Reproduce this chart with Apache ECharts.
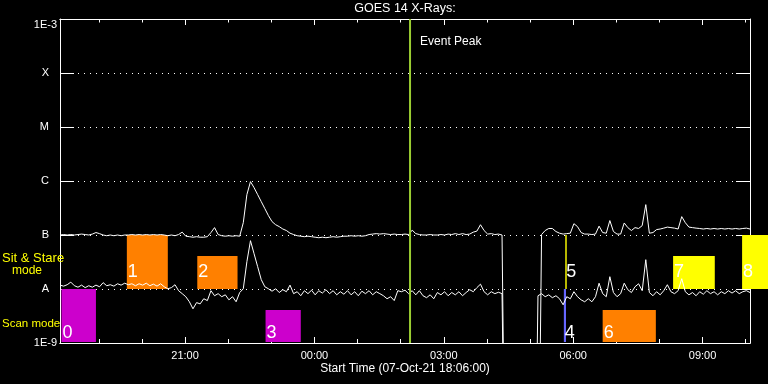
<!DOCTYPE html>
<html><head><meta charset="utf-8">
<script src="https://cdn.jsdelivr.net/npm/echarts@6/dist/echarts.min.js"></script>
<style>html,body{margin:0;padding:0;background:#000}#c{width:768px;height:384px}</style>
</head><body><div id="c"></div>
<script>
// ---------- data ----------
const chartTitle = 'GOES 14 X-Rays:';
const startTimeLabel = 'Start Time (07-Oct-21 18:06:00)';
const rangeStart = '18:06';
const rangeEnd = '10:06';
const sampleMinutes = 5;
const majorTickTimes = ['21:00', '00:00', '03:00', '06:00', '09:00'];
const minorTickTimes = ['19:00', '20:00', '22:00', '23:00', '01:00', '02:00', '04:00', '05:00', '07:00', '08:00', '10:00'];
const fluxLevels = [1e-9, 1e-8, 1e-7, 1e-6, 1e-5, 1e-4, 1e-3];
const fluxLevelLabels = ['1E-9', 'A', 'B', 'C', 'M', 'X', '1E-3'];
const fluxUnit = 1e-8; // values below are in units of 1e-8 W/m^2, sampled every 5 min from 18:06

const upperFlux = [
  10.0,10.2,10.0,10.2,10.0,10.2,10.4,10.2,10.0,10.4,
  11.1,10.6,10.0,9.7,10.0,9.7,10.0,9.7,10.0,10.0,
  10.2,10.0,10.2,10.0,10.2,10.0,10.2,10.0,10.2,10.0,
  9.7,10.0,9.7,10.2,11.3,9.5,9.3,9.1,9.3,9.1,
  9.1,9.3,11.1,13.7,10.2,9.7,9.5,9.7,9.5,9.7,
  9.5,16.9,55.9,97.3,75.3,55.9,41.5,30.8,22.8,17.7,
  15.5,14.3,12.9,12.1,10.8,10.2,9.7,9.5,9.3,9.5,
  9.3,9.1,8.9,9.1,8.9,9.1,9.3,9.1,9.3,9.5,
  9.5,9.7,9.5,9.7,9.5,9.7,10.2,10.4,10.6,10.4,
  10.6,10.4,10.2,10.4,10.2,10.2,10.4,10.2,12.3,10.6,
  10.2,10.0,10.0,10.2,10.0,10.0,10.2,10.0,10.4,10.2,
  10.6,10.2,10.6,10.2,10.4,11.3,11.8,15.5,12.1,10.4,
  10.6,10.2,10.4,10.0,
  1e-5,1e-5,1e-5,1e-5,1e-5,1e-5,1e-5,1e-5,1e-5,1e-5,
  10.2,12.1,13.2,13.2,11.6,10.8,
  10.4,10.6,10.8,16.2,14.3,11.1,10.4,10.4,10.2,10.4,
  14.6,11.1,10.8,18.5,11.6,10.4,10.4,16.7,13.7,12.1,
  13.7,13.2,14.9,36.5,10.8,11.1,12.6,12.9,13.4,14.0,
  13.7,13.4,12.9,21.9,16.9,14.0,13.7,13.4,13.2,12.9,
  13.2,12.9,13.2,12.9,13.2,12.9,13.2,12.9,13.2,12.9,
  13.2,13.4,12.9
];

const lowerFlux = [
  1.18,1.13,1.20,1.34,1.15,1.08,1.18,1.06,1.15,1.08,
  1.18,1.10,1.31,1.15,1.20,1.13,1.25,1.18,1.28,1.20,
  1.25,1.15,1.25,1.18,1.28,1.15,1.23,1.13,1.25,1.10,
  1.01,1.06,1.20,0.93,0.82,0.72,0.58,0.43,0.56,0.53,
  0.66,0.61,0.93,0.75,0.82,0.72,0.78,0.63,0.72,0.58,
  0.86,1.01,3.2,7.85,4.5,2.59,1.49,1.10,1.01,0.91,
  1.01,0.86,0.97,0.89,1.18,0.82,0.89,0.75,0.93,0.82,
  0.95,0.78,0.93,0.84,0.97,0.82,0.93,0.78,0.89,0.80,
  0.93,0.78,0.89,0.75,0.91,0.82,0.93,0.78,0.89,0.82,
  0.75,0.66,0.72,0.61,0.93,0.89,0.95,0.82,0.93,0.78,
  0.93,0.75,0.69,0.78,0.66,0.86,0.78,0.89,0.75,0.86,
  0.78,0.89,0.75,0.86,0.97,0.89,1.06,1.23,0.89,0.78,
  0.89,0.82,0.87,0.82,
  1e-5,1e-5,1e-5,1e-5,1e-5,1e-5,1e-5,1e-5,1e-5,
  0.75,0.82,0.72,0.78,0.69,0.75,0.66,
  0.51,0.72,0.66,0.89,0.72,0.63,0.58,0.66,0.58,0.72,
  1.28,0.82,0.72,1.69,0.86,0.72,0.82,1.28,0.97,0.86,
  1.10,1.25,0.93,3.49,0.86,0.75,0.89,0.78,0.93,1.20,
  0.89,0.82,0.93,1.55,0.89,0.78,0.86,0.75,0.89,0.80,
  0.93,0.82,0.89,0.78,0.89,0.82,0.93,0.84,0.93,0.82,
  0.89,0.93,0.86
];

const eventPeakTime = '02:13';
const eventPeakText = 'Event Peak';

const modeIds   = ['0', '1', '2', '3', '4', '5', '6', '7', '8'];
const modeStart = ['18:08', '19:39', '21:17', '22:52', '05:47', '05:49', '06:41', '08:19', '09:55'];
const modeEnd   = ['18:56', '20:36', '22:13', '23:41', '05:50', '05:51', '07:55', '09:17', '10:40'];
const modeRow   = ['scan', 'sit', 'sit', 'scan', 'scan', 'sit', 'scan', 'sit', 'sit'];
const modeLow   = [1e-9, 1e-8, 1e-8, 1e-9, 1e-9, 1e-8, 1e-9, 1e-8, 1e-8];
const modeHigh  = [1e-8, 1e-7, 4.1e-8, 4.1e-9, 1e-8, 1e-7, 4.1e-9, 4.1e-8, 1e-7];
const modeKind  = ['scan', 'raster', 'raster', 'scan', 'blue', 'sit', 'raster', 'sit', 'sit'];

// ---------- styles ----------
const FONT = '"Liberation Sans", "DejaVu Sans", sans-serif';
const kindColors = { scan: '#cc00cc', raster: '#ff8000', sit: '#ffff00', blue: '#6666ff' };
const sitLabelLevel = 2.1e-8;
const scanLabelLevel = 1.55e-9;

function toHours(s) {
  const [h, m] = s.split(':').map(Number);
  let v = h + m / 60;
  if (h >= 12) v -= 24;
  return v;
}
const xMin = toHours(rangeStart);
const xMax = toHours(rangeEnd);
const pad2 = n => (n < 10 ? '0' : '') + n;

const upperData = upperFlux.map((v, k) => [xMin + k * sampleMinutes / 60, v * fluxUnit]);
const lowerData = lowerFlux.map((v, k) => [xMin + k * sampleMinutes / 60, v * fluxUnit]);
const modeData = modeIds.map((id, i) => [toHours(modeStart[i]), toHours(modeEnd[i]), modeLow[i], modeHigh[i], i]);

const majorVals = majorTickTimes.map(toHours);
const minorVals = minorTickTimes.map(toHours);

const chart = echarts.init(document.getElementById('c'), null, { renderer: 'canvas' });

const gridBox = { left: 60, right: 18, top: 19, bottom: 41, outerBoundsMode: 'none', containLabel: false };

function xAxisBase(grid, pos, vals, len) {
  return {
    type: 'value', gridIndex: grid, position: pos, min: xMin, max: xMax,
    axisLine: { show: true, onZero: false, lineStyle: { color: '#ffffff', width: 1 } },
    axisTick: { show: true, inside: true, length: len, customValues: vals, lineStyle: { color: '#ffffff', width: 1 } },
    axisLabel: { show: false },
    splitLine: { show: false }
  };
}

const xMain = xAxisBase(0, 'bottom', majorVals, 6);
xMain.axisLabel = {
  show: true, customValues: majorVals, color: '#ffffff', fontSize: 11, fontFamily: FONT, margin: 7,
  formatter: v => pad2(((Math.round(v) % 24) + 24) % 24) + ':00'
};
xMain.name = startTimeLabel;
xMain.nameLocation = 'middle';
xMain.nameGap = 20;
xMain.nameMoveOverlap = false;
xMain.nameTextStyle = { color: '#ffffff', fontSize: 12, fontFamily: FONT };

const lab = { color: '#ffffff', fontSize: 11, fontFamily: FONT };
const yLeft = {
  type: 'log', logBase: 10, gridIndex: 0, position: 'left', min: 1e-9, max: 1e-3,
  axisLine: { show: true, onZero: false, lineStyle: { color: '#ffffff', width: 1 } },
  axisTick: { show: true, inside: true, length: 14, lineStyle: { color: '#ffffff', width: 1 } },
  splitLine: { show: true, lineStyle: { color: '#ffffff', width: 1, type: [1, 5] } },
  axisLabel: {
    show: true, margin: 3, showMinLabel: true, showMaxLabel: true,
    verticalAlignMaxLabel: 'top',
    formatter: v => {
      const i = Math.round(Math.log10(v)) + 9;
      const t = fluxLevelLabels[i];
      if (i === 0 || i === fluxLevelLabels.length - 1) return '{e|' + t + '}';
      return '{cls|' + t + '}';
    },
    rich: {
      e: Object.assign({}, lab),
      cls: Object.assign({ padding: [0, 8, 0, 0] }, lab)
    }
  }
};
const yRight = {
  type: 'log', logBase: 10, gridIndex: 0, position: 'right', min: 1e-9, max: 1e-3,
  axisLine: { show: true, onZero: false, lineStyle: { color: '#ffffff', width: 1 } },
  axisTick: { show: true, inside: true, length: 14, lineStyle: { color: '#ffffff', width: 1 } },
  splitLine: { show: false }, axisLabel: { show: false }
};
const yHidden = { type: 'log', gridIndex: 1, min: 1e-9, max: 1e-3, show: false,
  axisLine: { show: false, onZero: false } };

function renderMode(params, api) {
  const cs = params.coordSys;
  const i = api.value(4);
  const a = api.coord([api.value(0), api.value(3)]);
  const b = api.coord([api.value(1), api.value(2)]);
  const y2 = Math.min(b[1], cs.y + cs.height - 1);
  const ly = api.coord([api.value(0), modeRow[i] === 'sit' ? sitLabelLevel : scanLabelLevel])[1];
  return {
    type: 'group',
    children: [
      { type: 'rect', shape: { x: a[0], y: a[1], width: b[0] - a[0], height: y2 - a[1] },
        style: { fill: kindColors[modeKind[i]] } },
      { type: 'text', style: { x: a[0] + 1, y: ly, text: modeIds[i], fill: '#ffffff',
        font: '18px ' + FONT, align: 'left', verticalAlign: 'middle' } }
    ]
  };
}

function renderPeak(params, api) {
  const cs = params.coordSys;
  const x = api.coord([api.value(0), 1e-6])[0];
  return {
    type: 'group',
    children: [
      { type: 'line', shape: { x1: x, y1: cs.y, x2: x, y2: cs.y + cs.height },
        style: { stroke: '#9acd32', lineWidth: 2 } },
      { type: 'text', style: { x: x + 10, y: cs.y + 23, text: eventPeakText, fill: '#ffffff',
        font: '12px ' + FONT, align: 'left', verticalAlign: 'middle' } }
    ]
  };
}

const labelStyle = (txt, size) => ({ text: txt, fill: '#ffff00', font: size + 'px ' + FONT, verticalAlign: 'middle', align: 'left' });

chart.setOption({
  backgroundColor: '#000000',
  animation: false,
  grid: [Object.assign({}, gridBox), Object.assign({}, gridBox)],
  xAxis: [
    xMain,
    xAxisBase(0, 'top', majorVals, 6),
    xAxisBase(1, 'bottom', minorVals, 4),
    xAxisBase(1, 'top', minorVals, 3.5)
  ],
  yAxis: [yLeft, yRight, yHidden],
  graphic: [
    { type: 'text', x: 405, y: 9, z: 100, style: { text: chartTitle, fill: '#ffffff', font: '12.5px ' + FONT, align: 'center', verticalAlign: 'middle' } },
    { type: 'text', x: 2, y: 258.8, z: 100, style: labelStyle('Sit & Stare', 13) },
    { type: 'text', x: 12, y: 270.5, z: 100, style: labelStyle('mode', 12) },
    { type: 'text', x: 2, y: 323.8, z: 100, style: labelStyle('Scan mode', 11.5) }
  ],
  series: [
    { type: 'custom', name: 'modes', xAxisIndex: 0, yAxisIndex: 0, z: 2, clip: false,
      renderItem: renderMode, data: modeData, encode: { x: [0, 1], y: [2, 3] } },
    { type: 'line', name: 'long', xAxisIndex: 0, yAxisIndex: 0, z: 3, showSymbol: false, symbol: 'none',
      clip: true, lineStyle: { color: '#ffffff', width: 1 }, data: upperData },
    { type: 'line', name: 'short', xAxisIndex: 0, yAxisIndex: 0, z: 3, showSymbol: false, symbol: 'none',
      clip: true, lineStyle: { color: '#ffffff', width: 1 }, data: lowerData },
    { type: 'custom', name: 'peak', xAxisIndex: 0, yAxisIndex: 0, z: 4, clip: false,
      renderItem: renderPeak, data: [[toHours(eventPeakTime)]], encode: { x: 0 } }
  ]
});
</script>
</body></html>
